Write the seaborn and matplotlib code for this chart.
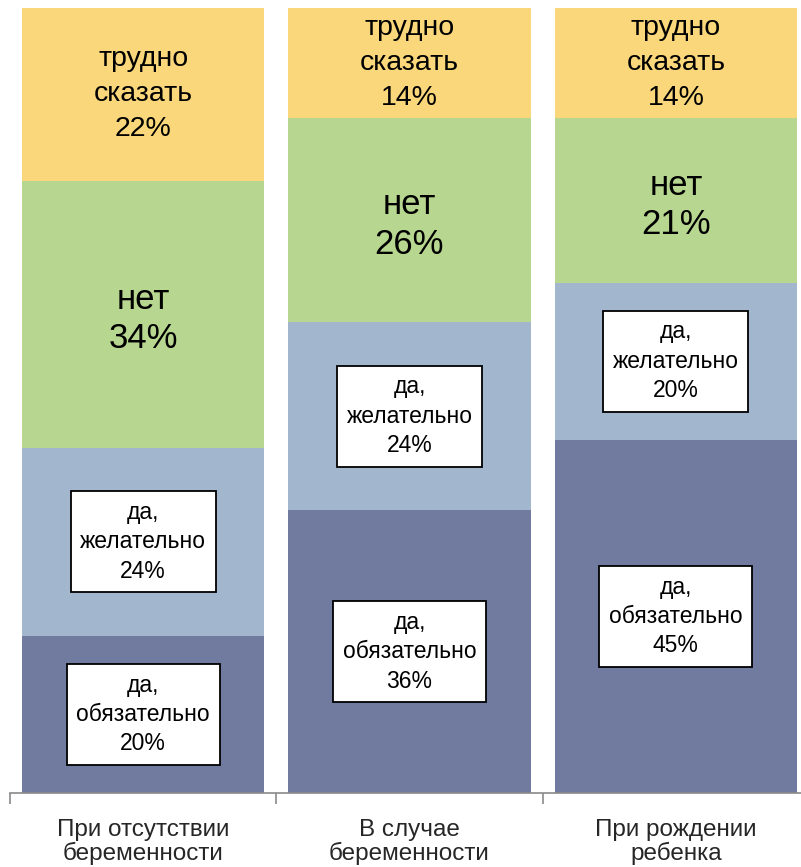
import numpy as np
import pandas as pd
import matplotlib
matplotlib.use("Agg")
import matplotlib.pyplot as plt
import seaborn as sns

# ---------------------
# Data
# ---------------------
categories = ["При отсутствии\nбеременности",
              "В случае\nбеременности",
              "При рождении\nребенка"]
layer_names = ["да,\nобязательно", "да,\nжелательно", "нет", "трудно\nсказать"]
must = [20, 36, 45]
desirable = [24, 24, 20]
no = [34, 26, 21]
hard_to_say = [22, 14, 14]

layer_colors = ["#717ba0", "#a2b7ce", "#b7d68f", "#f9d77a"]
boxed = [True, True, False, False]
label_sizes = [16.5, 16.5, 25, 20.5]
label_spacing = [1.35, 1.35, 1.25, 1.45]

# ---------------------
# Setup
# ---------------------
sns.set_style("white")
plt.rcParams["font.family"] = ["Liberation Sans", "DejaVu Sans"]

layers = [must, desirable, no, hard_to_say]
df = pd.DataFrame({name: vals for name, vals in zip(layer_names, layers)}, index=categories)
cum = df.cumsum(axis=1)

fig = plt.figure(figsize=(8.01, 8.67), dpi=100)
ax = fig.add_axes([10 / 801, 74 / 867, 799 / 801, (867 - 74 - 8) / 867])

# draw cumulative totals from the top layer down so they overlap as a stack
for i in range(len(layer_names) - 1, -1, -1):
    sns.barplot(x=categories, y=cum.iloc[:, i].values, color=layer_colors[i],
                saturation=1, width=0.91, linewidth=0, ax=ax)

# segment labels
for j, cat in enumerate(categories):
    for i, name in enumerate(layer_names):
        top = cum.iloc[j, i]
        val = df.iloc[j, i]
        mid = top - val / 2
        txt = f"{name}\n{val}%"
        kw = dict(ha="center", va="center", fontsize=label_sizes[i],
                  linespacing=label_spacing[i], color="black")
        if boxed[i]:
            kw["bbox"] = dict(boxstyle="square,pad=0.42", fc="white", ec="black", lw=1.3)
        ax.text(j, mid - (0.6 if i == 2 else 0), txt, **kw)

ax.set_xlim(-0.5, 2.5)
ax.set_ylim(0, 100)
ax.set_yticks([])
ax.set_xticks(range(len(categories)))
ax.set_xticklabels(categories, fontsize=17.5, linespacing=1.05)
ax.set_xticks([-0.5, 0.5, 1.5, 2.5], minor=True)
ax.tick_params(axis="x", which="major", bottom=True, length=0, pad=19)
ax.tick_params(axis="x", which="minor", bottom=True, length=8, width=1.2,
               color="#8a8a8a", direction="out")
sns.despine(ax=ax, left=True, top=True, right=True)
ax.spines["bottom"].set_color("#8a8a8a")
ax.spines["bottom"].set_linewidth(1.2)

fig.savefig("out.png", dpi=100)
